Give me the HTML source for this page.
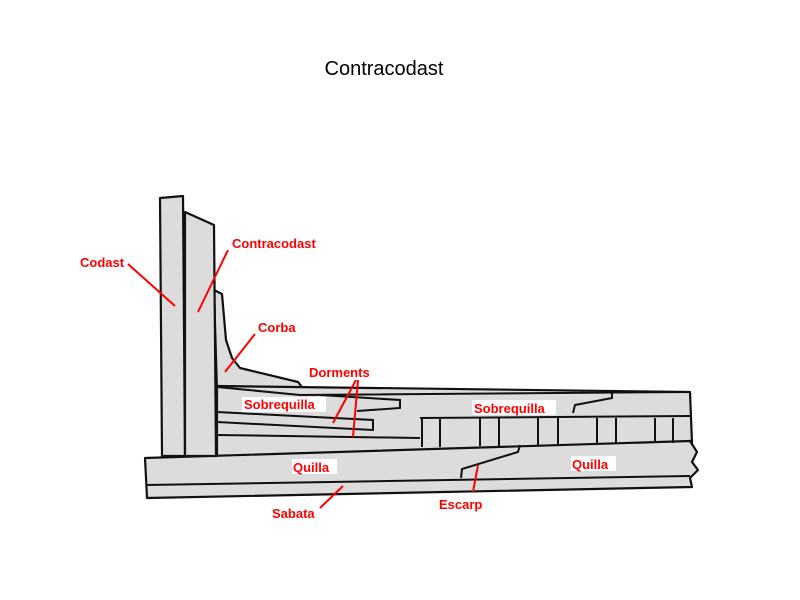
<!DOCTYPE html>
<html><head><style>
body{margin:0;background:#fff;width:800px;height:600px;overflow:hidden}
svg{display:block}
.l{font-family:"Liberation Sans",Arial,sans-serif;font-weight:bold;font-size:13px;fill:#f00}
</style></head><body>
<svg width="800" height="600" viewBox="0 0 800 600">
<text x="384" y="75" text-anchor="middle" font-family="Liberation Sans,Arial,sans-serif" font-size="20">Contracodast</text>
<g stroke="#111" stroke-width="2.2" fill="#dcdcdc" stroke-linejoin="round">
<!-- corba -->
<path d="M214,290 L222,294 L226,340 L232,358 L240,368 L298,382 L306,392 L217,392 Z"/>
<!-- inner layers fill -->
<path d="M217,386 L690,392 L692,443 L217,457 Z"/>
<!-- keel -->
<path d="M145,458 L690,441 L697,452 L692,462 L698,470 L690,478 L692,487 L147,498 Z"/>
<!-- codast -->
<path d="M160,198 L183,196 L185,456 L162,456 Z"/>
<!-- contracodast -->
<path d="M185,212 L214,225 L216,456 L185,456 Z"/>
</g>
<g stroke="#111" stroke-width="2" fill="none">
<path d="M217,387 L300,395 L690,392"/>
<path d="M146,485 L690,476"/>
<path d="M320,395 L400,400 L400,408 L357,411"/>
<path d="M217,412 L373,420 L373,430 L217,422"/>
<path d="M217,435 L420,438"/>
<path d="M420,418 L690,416"/>
<path d="M573,413 L575,405 L612,398 L612,392"/>
<path d="M461,478 L462,469 L518,452 L520,445"/>
<path d="M422,418V447 M440,418V447 M480,418V446 M499,418V446 M538,418V445 M558,418V445 M597,418V444 M616,418V444 M655,418V443 M673,418V443"/>
</g>
<g stroke="#f00" stroke-width="2">
<line x1="128" y1="264" x2="175" y2="306"/>
<line x1="228" y1="250" x2="198" y2="312"/>
<line x1="255" y1="334" x2="225" y2="372"/>
<line x1="356" y1="380" x2="333" y2="423"/>
<line x1="358" y1="380" x2="353" y2="437"/>
<line x1="320" y1="508" x2="343" y2="486"/>
<line x1="473" y1="492" x2="478" y2="465"/>
</g>
<g class="l">
<text x="80" y="267">Codast</text>
<text x="232" y="248">Contracodast</text>
<text x="258" y="332">Corba</text>
<text x="309" y="377">Dorments</text>
<rect x="242" y="397" width="84" height="15" fill="#fff"/>
<text x="244" y="409">Sobrequilla</text>
<rect x="472" y="400" width="84" height="15" fill="#fff"/>
<text x="474" y="413">Sobrequilla</text>
<rect x="292" y="459" width="45" height="15" fill="#fff"/>
<text x="293" y="472">Quilla</text>
<rect x="571" y="456" width="45" height="15" fill="#fff"/>
<text x="572" y="469">Quilla</text>
<text x="439" y="509">Escarp</text>
<text x="272" y="518">Sabata</text>
</g>
</svg>
</body></html>
